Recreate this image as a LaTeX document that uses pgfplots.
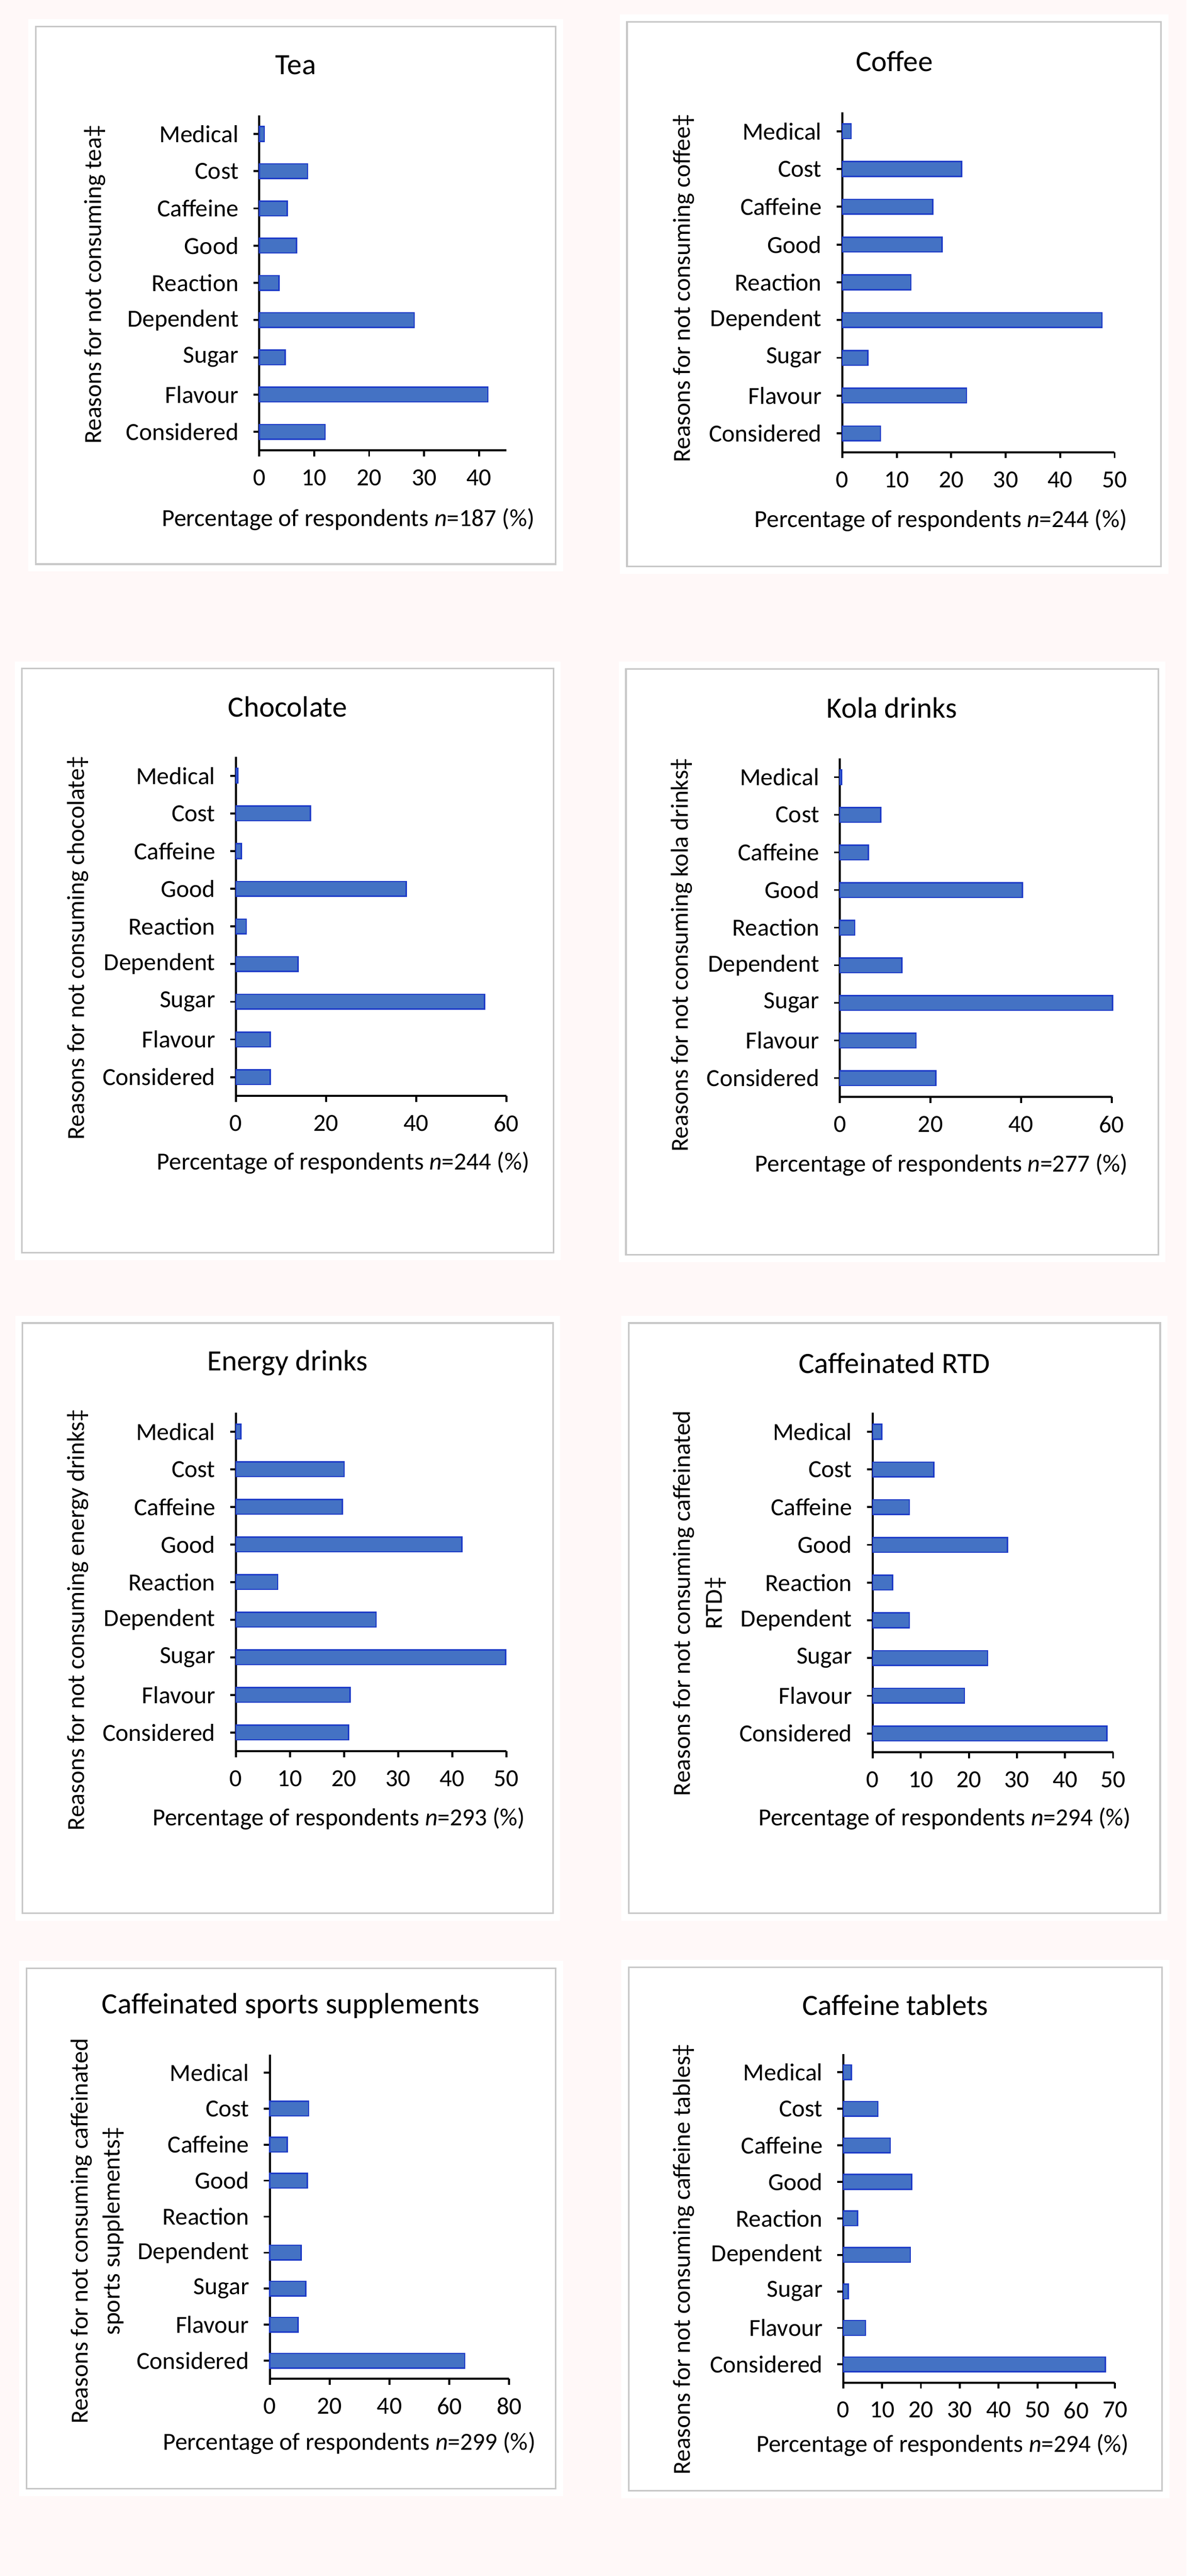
\documentclass[border=0pt]{standalone}
\usepackage{fontspec}
\setmainfont{Carlito}
\usepackage{pgfplots}
\pgfplotsset{compat=1.18}
\definecolor{bgpink}{RGB}{255,248,248}
\definecolor{boxgray}{RGB}{200,200,200}
\definecolor{barfill}{RGB}{68,114,196}
\definecolor{baredge}{RGB}{30,60,200}
\newcommand\lbl{\fontsize{15}{19.5}\selectfont}
\newcommand\ttl{\fontsize{18}{21}\selectfont}
\def\pxu{0.3pt}
\pgfplotsset{
  panel/.style={
    xbar, scale only axis, anchor=south west, clip=false,
    xmin=0, ymin=-0.5, ymax=8.5,
    ytick={0,...,8},
    yticklabels={Considered,Flavour,Sugar,Dependent,Reaction,Good,Caffeine,Cost,Medical},
    axis x line=bottom, axis y line=left,
    axis line style={line width=1.2pt, black, -},
    tick align=outside, major tick length=3.6pt,
    tick style={line width=1.2pt, black},
    bar width=9pt,
    /pgf/number format/assume math mode=true,
    tick label style={font=\lbl},
    yticklabel style={xshift=-5.5pt},
    xticklabel style={yshift=-4.6pt},
  },
  place/.style n args={6}{
    every axis title/.style={at={(axis description cs:#1,#2)}, anchor=center, font=\ttl},
    every axis x label/.style={at={(axis description cs:#3,#4)}, anchor=center, font=\lbl},
    every axis y label/.style={at={(axis description cs:#5,#6)}, rotate=90, anchor=center, font=\lbl, align=center},
  },
  bars/.style={fill=barfill, draw=baredge, line width=0.8pt},
}
\newcommand\panelbox[4]{%
  \fill[white] ({(#1-15)*\pxu},{(#2-15)*\pxu}) rectangle ({(#3+15)*\pxu},{(#4+15)*\pxu});
  \draw[boxgray, line width=1.0pt] ({#1*\pxu},{#2*\pxu}) rectangle ({#3*\pxu},{#4*\pxu});
}
\begin{document}
\begin{tikzpicture}
\path[use as bounding box] (0,0) rectangle ({2419*\pxu},{5251*\pxu});
\fill[bgpink] (0,0) rectangle ({2419*\pxu},{5251*\pxu});
\panelbox{73}{4101}{1133}{5197}
\panelbox{1278}{4096}{2367}{5206}
\panelbox{45}{2697}{1128}{3888}
\panelbox{1276}{2693}{2361}{3887}
\panelbox{46}{1351}{1127}{2554}
\panelbox{1282}{1351}{2365}{2554}
\panelbox{54}{178}{1133}{1239}
\panelbox{1282}{174}{2369}{1241}

% Tea
\begin{axis}[panel, at={({528.5*\pxu},{4332.8*\pxu})}, width=151.2pt, height=204.9pt,
  xmax=45, xtick={0,10,20,30,40},
  place={0.148}{1.150}{0.360}{-0.206}{-0.666}{0.495},
  title={Tea},
  xlabel={Percentage of respondents \textit{n}=187 (\%)},
  ylabel={Reasons for not consuming tea‡}]
\addplot[bars] coordinates {(12.0,0) (41.6,1) (4.7,2) (28.2,3) (3.6,4) (6.8,5) (5.1,6) (8.8,7) (0.9,8)};
\end{axis}

% Coffee
\begin{axis}[panel, at={({1717*\pxu},{4329*\pxu})}, width=166.5pt, height=207.9pt,
  xmax=50, xtick={0,10,20,30,40,50},
  place={0.191}{1.150}{0.362}{-0.201}{-0.582}{0.482},
  title={Coffee},
  xlabel={Percentage of respondents \textit{n}=244 (\%)},
  ylabel={Reasons for not consuming coffee‡}]
\addplot[bars] coordinates {(7.0,0) (22.8,1) (4.7,2) (47.7,3) (12.6,4) (18.3,5) (16.6,6) (21.9,7) (1.6,8)};
\end{axis}

% Chocolate
\begin{axis}[panel, at={({481*\pxu},{3017*\pxu})}, width=165.3pt, height=207.3pt,
  xmax=60, xtick={0,20,40,60},
  place={0.191}{1.148}{0.397}{-0.197}{-0.586}{0.436},
  title={Chocolate},
  xlabel={Percentage of respondents \textit{n}=244 (\%)},
  ylabel={Reasons for not consuming chocolate‡}]
\addplot[bars] coordinates {(7.6,0) (7.6,1) (55.2,2) (13.8,3) (2.3,4) (37.8,5) (1.2,6) (16.5,7) (0.4,8)};
\end{axis}

% Kola drinks
\begin{axis}[panel, at={({1712*\pxu},{3015*\pxu})}, width=166.2pt, height=207.0pt,
  xmax=60, xtick={0,20,40,60},
  place={0.191}{1.149}{0.374}{-0.201}{-0.583}{0.420},
  title={Kola drinks},
  xlabel={Percentage of respondents \textit{n}=277 (\%)},
  ylabel={Reasons for not consuming kola drinks‡}]
\addplot[bars] coordinates {(21.2,0) (16.8,1) (60.2,2) (13.7,3) (3.3,4) (40.3,5) (6.3,6) (9.0,7) (0.4,8)};
\end{axis}

% Energy drinks
\begin{axis}[panel, at={({481*\pxu},{1681*\pxu})}, width=165.3pt, height=207.0pt,
  xmax=50, xtick={0,10,20,30,40,50},
  place={0.191}{1.148}{0.381}{-0.199}{-0.586}{0.388},
  title={Energy drinks},
  xlabel={Percentage of respondents \textit{n}=293 (\%)},
  ylabel={Reasons for not consuming energy drinks‡}]
\addplot[bars] coordinates {(20.8,0) (21.1,1) (49.9,2) (25.9,3) (7.7,4) (41.8,5) (19.7,6) (20.0,7) (0.9,8)};
\end{axis}

% Caffeinated RTD
\begin{axis}[panel, at={({1779*\pxu},{1679*\pxu})}, width=147.0pt, height=207.6pt,
  xmax=50, xtick={0,10,20,30,40,50},
  place={0.090}{1.147}{0.300}{-0.195}{-0.720}{0.439},
  title={Caffeinated RTD},
  xlabel={Percentage of respondents \textit{n}=294 (\%)},
  ylabel={Reasons for not consuming caffeinated\\RTD‡}]
\addplot[bars] coordinates {(48.7,0) (19.1,1) (23.9,2) (7.6,3) (4.1,4) (28.0,5) (7.6,6) (12.7,7) (1.9,8)};
\end{axis}

% Caffeinated sports supplements
\begin{axis}[panel, at={({550*\pxu},{402*\pxu})}, width=146.4pt, height=198.3pt,
  xmax=80, xtick={0,20,40,60,80},
  place={0.088}{1.151}{0.332}{-0.198}{-0.720}{0.455},
  title={Caffeinated sports supplements},
  xlabel={Percentage of respondents \textit{n}=299 (\%)},
  ylabel={Reasons for not consuming caffeinated\\sports supplements‡}]
\addplot[bars] coordinates {(65.1,0) (9.4,1) (12.0,2) (10.5,3) (12.5,5) (5.8,6) (13.0,7)};
\end{axis}

% Caffeine tablets
\begin{axis}[panel, at={({1719*\pxu},{394*\pxu})}, width=166.2pt, height=201.0pt,
  xmax=70, xtick={0,10,20,30,40,50,60,70},
  place={0.191}{1.149}{0.366}{-0.190}{-0.587}{0.375},
  title={Caffeine tablets},
  xlabel={Percentage of respondents \textit{n}=294 (\%)},
  ylabel={Reasons for not consuming caffeine tables‡}]
\addplot[bars] coordinates {(67.5,0) (5.7,1) (1.3,2) (17.3,3) (3.7,4) (17.6,5) (12.1,6) (8.9,7) (2.1,8)};
\end{axis}
\end{tikzpicture}
\end{document}
